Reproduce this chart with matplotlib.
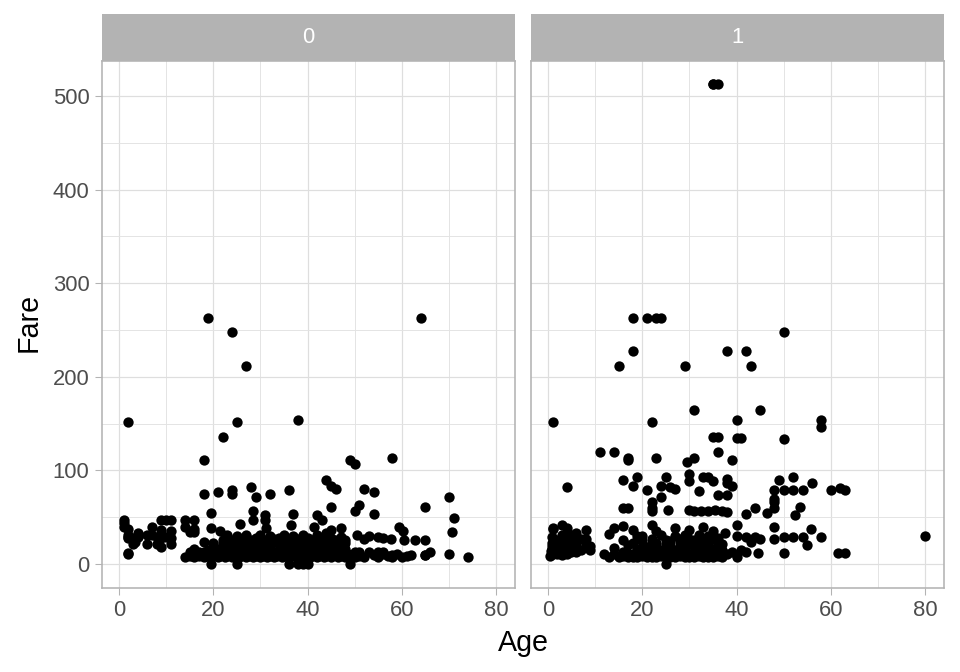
import numpy as np
import matplotlib.pyplot as plt
from matplotlib.ticker import MultipleLocator

# Titanic: Age vs Fare, faceted by Survived (0 / 1)
# values, (age, fare)

died_high = [(2, 151.6), (19, 263), (24, 247.5), (27, 211.3), (22, 135.6), (25, 151.6),
             (38, 153.5), (64, 263), (18, 110.9), (49, 110.9), (50, 106.4), (58, 113.3)]

died_mid = [(18, 75.3), (21, 77.3), (24, 79.2), (24, 75.3), (28, 82.2), (29, 71.3), (32, 75.3),
            (36, 79.2), (44, 90), (45, 83.5), (46, 79.7), (52, 79.7), (54, 77.3), (70, 71.3),
            (65, 61.4), (45, 61.4), (51, 63.4), (50, 56.9), (54, 53.1), (71, 49.5), (19.5, 55),
            (28.5, 56.5), (28.5, 47.1), (31, 52.6), (31, 47.1), (37, 53.1), (42, 52.6), (43, 47.1),
            (14, 46.9), (16, 46.9), (1, 46.9), (9, 46.9), (11, 46.9)]

died_young = [(1, 39.7), (2, 37.5), (4, 33.5), (7, 39.7), (9, 36.5), (11, 35), (7, 31.3), (2, 31.3),
              (3, 27.9), (6, 31.3), (9, 31.3), (2, 27.9), (9, 27.9), (11, 27.9), (2, 29.1), (4, 29.1),
              (8, 29.1), (10, 29.1), (3, 21.1), (3.5, 24), (8, 21.1), (9, 17.8), (11, 21.1),
              (2, 10.5), (2, 12), (6, 21.1), (1, 44), (10, 46.9)]

died_lowmid = [(14, 39.7), (16, 37), (19.5, 38), (21.5, 35), (25.6, 42.4), (31.3, 38), (36.4, 41.6),
               (41.3, 39.4), (45, 36.8), (47, 38), (50.4, 30.5), (59.3, 40), (60.2, 35.5), (70.7, 34.6),
               (55, 29), (56, 27.7), (57.6, 26.5), (60.5, 26), (62.7, 26), (64.9, 26), (15, 34.4),
               (16, 34.4)]

died_upper = [(22, 26), (23, 30.7), (24, 26), (25, 29.7), (26, 26.3), (27, 30.5), (28, 26), (29, 27.7),
              (30, 31.3), (31, 26), (32, 30), (33, 26.6), (34, 27.7), (35, 31), (36, 26), (37, 29.7),
              (38, 26.3), (39, 31.4), (40, 27.7), (41, 26), (42, 30.7), (43, 26.6), (44, 33.5),
              (45, 27.7), (46, 26), (47, 28.5), (48, 26), (23, 21), (25, 24.2), (27, 21.7), (29, 23.5),
              (31, 21), (33, 24.2), (35, 21), (37, 23.3), (39, 21.7), (41, 24), (43, 21), (45, 22.5),
              (47, 21), (18, 24), (20, 22), (52, 26.6), (53, 30),
              (22, 22.4), (24, 20.5), (26, 22.4), (28, 21), (30, 24.2), (32, 22), (34, 21.7),
              (36, 23.5), (38, 21), (40, 22.4), (42, 21.7), (44, 24.2), (46, 21), (48, 22.4)]

died_band = [(14, 7.25), (16, 7.75), (18, 7.23), (19.5, 7.9), (21, 7.25), (22.5, 7.75), (24, 7.05),
             (25.5, 7.9), (27, 7.25), (28.5, 7.75), (30, 7.23), (31.5, 7.9), (33, 7.25), (34.5, 7.75),
             (36, 7.05), (37.5, 7.9), (39, 7.25), (40.5, 7.75), (42, 7.23), (43.5, 7.9), (45, 7.25),
             (46.5, 7.75), (48, 7.05), (50, 7.9), (52, 7.25), (55, 7.75), (58, 7.23),
             (15, 8.05), (17, 8.05), (18.5, 8.66), (20, 8.05), (21.5, 8.05), (23, 8.66), (24.5, 8.05),
             (26, 8.05), (27.5, 8.66), (29, 8.05), (30.5, 8.05), (32, 8.66), (33.5, 8.05), (35, 8.05),
             (36.5, 8.66), (38, 8.05), (39.5, 8.05), (41, 8.66), (42.5, 8.05), (44, 8.05), (47, 8.66),
             (49, 8.05), (51, 8.05), (57, 8.66), (61, 8.05), (65, 9.5), (70, 10.5), (74, 7.8),
             (16, 10.5), (19, 10.5), (22, 9.5), (25, 10.5), (28, 9.8), (31, 10.5), (34, 9.5),
             (37, 10.5), (40, 9.8), (43, 10.5), (46, 9.5), (48.5, 10.5), (54, 9.8), (59, 10.5),
             (62, 9.5), (56, 10.5), (58, 9.2), (60, 7), (66, 12.5), (64.8, 9.5),
             (15, 13), (17, 13), (18, 12.5), (20, 13), (23, 13), (24, 12.5), (26, 13), (27, 13),
             (29, 12.5), (30, 13), (32, 13), (33, 12.5), (35, 13), (36, 13), (38, 12.5), (39, 13),
             (41, 13), (42, 12.5), (44, 13), (45, 13), (47, 12.5), (50, 13), (51, 13), (53, 12.5),
             (55, 13), (56, 13),
             (16, 16.1), (19, 15.5), (21, 16.1), (24, 15.5), (26, 16.1), (28, 15.5), (31, 16.1),
             (34, 15.5), (36, 16.1), (39, 15.5), (42, 16.1), (45, 15.5), (48, 16.1),
             (20, 18.5), (23, 18), (26, 18.5), (29, 18), (32, 18.5), (35, 18), (38, 18.5),
             (41, 18), (44, 18.5), (46, 18),
             (19.5, 0), (25, 0), (36, 0.5), (38, 0), (39, 0), (40, 0), (49, 0)]

surv_high = [(35, 512.3), (36, 512.3), (35, 512.3), (18, 263), (21, 263), (23, 263), (24, 263),
             (50, 247.5), (18, 227.5), (38, 227.5), (42, 227.5), (15, 211.3), (29, 211.3),
             (43, 211.3), (1, 151.6), (22, 151.6), (31, 164.9), (40, 153.5), (45, 164.9),
             (58, 153.5), (58, 146.5), (35, 135.6), (36, 135.6), (40, 134.5), (41, 134.5),
             (50, 133.7), (11, 120), (14, 120), (17, 110.9), (17, 113.3), (23, 113.3), (29.5, 108.9),
             (31, 113.3), (36, 120), (39, 110.9)]

surv_mid = [(4, 81.9), (16, 90), (19, 93.5), (18, 83.2), (21, 79.2), (24, 83.2), (25, 93.5),
            (26, 82.2), (27, 79.7), (30, 96.2), (30, 89.1), (32, 78.3), (33, 93.5), (34, 93.5),
            (35, 89.1), (38, 91.1), (38, 86.5), (36, 73.5), (38, 73.5), (39, 83.2), (49, 90),
            (52, 93.5), (48, 79.2), (50, 79.2), (52, 79.2), (54, 79.2), (56, 86.5), (60, 79.2),
            (62, 81), (63, 79.6), (48, 66.6), (22, 66.6), (24, 71.3), (22, 60), (22, 56.5),
            (25.5, 57.9), (16, 59.4), (17, 59.4), (30, 57.9), (31, 56.5), (32.5, 57), (34, 56.9),
            (35.5, 57.8), (37, 56.5), (38, 55.4), (42, 53.1), (44, 59.4), (46.5, 55), (48, 59.4),
            (48, 69.3), (52.5, 52.6), (53.5, 61.2)]

surv_young = [(0.4, 8.5), (0.7, 14.4), (0.8, 29), (0.9, 15.7), (1, 11.1), (1, 37), (1, 39), (1, 20.6),
              (2, 26), (2, 10.5), (2, 23), (3, 18.8), (3, 26), (3, 15.9), (3, 41.6), (3, 31.4),
              (4, 16.7), (4, 22), (4, 29.1), (4, 11.1), (4, 39), (5, 12.5), (5, 19.3), (5, 27.75),
              (5, 31.4), (6, 12.5), (6, 33), (7, 26.25), (8, 26.25), (8, 36.75), (9, 15.2), (9, 19.3),
              (0.8, 18.75), (0.9, 23), (4, 13.4), (2, 12.3), (6, 26), (3, 9.35), (8, 21),
              (1, 16.7), (2, 15.2), (2, 20.2), (3, 12.5), (4, 24.2), (5, 15.5), (6, 19.3), (7, 14.5)]

surv_band = [(13, 7.9), (15, 7.25), (16, 8.05), (17, 7.75), (18, 7.9), (19, 7.23), (20, 8.05),
             (21, 7.75), (22, 7.9), (23, 7.25), (24, 8.05), (25, 7.75), (26, 7.9), (27, 7.23),
             (28, 8.05), (29, 7.75), (30, 7.9), (31, 7.25), (32, 8.05), (33, 7.75), (34, 7.9),
             (35, 7.23), (36, 8.05), (37, 7.75),
             (12, 11.2), (14, 11.2), (16, 13), (18, 10.5), (19, 13), (21, 10.5), (22, 13), (24, 10.5),
             (25, 13), (27, 10.5), (28, 13), (29, 12.5), (31, 13), (32, 10.5), (34, 13), (35, 12.3),
             (36, 13),
             (14, 16.7), (17, 20.5), (19, 16.1), (22, 21), (24, 15.5), (26, 18.8), (28, 16.1),
             (30, 21), (33, 15.9), (36, 18.8),
             (13, 31.8), (16, 26), (19, 30), (20, 30), (22, 26.5), (24, 30.5), (25, 26), (27, 30),
             (28, 26.3), (29, 30.7), (31, 26), (32, 30.5), (33, 26.3), (34, 30), (35, 26.5), (36, 27.7),
             (14, 39), (16, 41), (18, 36), (22, 42), (23, 35), (27, 38), (30, 36.5), (33, 39.6),
             (35, 35.5),
             (20, 15.2), (21, 18.5), (23, 17.4), (25, 21), (27, 15.5), (29, 17), (31, 19.5),
             (32, 15.5), (34, 19.3), (35, 16.1), (37, 15.2), (18, 22), (20, 24.2), (23, 23),
             (26, 24.2), (28, 22.4), (30, 26.3), (32, 23), (34, 22.5), (36, 23.5), (37, 21),
             (15, 8.66), (17, 10.5), (20, 11.5), (23, 11.2), (26, 12.3), (30, 11.2), (33, 10.5)]

surv_old = [(38, 10.5), (40, 30), (37.6, 33), (42, 29), (43, 24), (44, 29), (44.5, 11.5), (48, 40),
            (50, 12), (50, 29), (52, 29), (54, 29), (55, 20), (55.7, 37), (58, 29), (61.5, 12),
            (63, 12), (80, 30), (40, 41.6), (45, 26.5), (48, 26.5), (42, 13), (39, 13), (40, 7.9),
            (41, 15), (25, 0)]

died = died_high + died_mid + died_young + died_lowmid + died_upper + died_band
surv = surv_high + surv_mid + surv_young + surv_band + surv_old
panels = [("0", died), ("1", surv)]

my_dpi = 96
fig = plt.figure(figsize=(960 / my_dpi, 672 / my_dpi), dpi=my_dpi)
plt.rcParams['font.family'] = ['Liberation Sans', 'DejaVu Sans']

W, H = 960, 672
panel_left = [102, 531]
panel_w = 413
panel_top, panel_bot = 60.5, 588
strip_top = 14

for i, (label, pts) in enumerate(panels):
    x0 = panel_left[i]
    ax = fig.add_axes([x0 / W, 1 - panel_bot / H, panel_w / W, (panel_bot - panel_top) / H])
    age, fare = zip(*pts)
    ax.scatter(age, fare, s=60, c='black', linewidths=0, zorder=3)
    ax.set_xlim(-3.56, 83.98)
    ax.set_ylim(-25.6, 537.9)
    ax.xaxis.set_major_locator(MultipleLocator(20))
    ax.xaxis.set_minor_locator(MultipleLocator(10))
    ax.yaxis.set_major_locator(MultipleLocator(100))
    ax.yaxis.set_minor_locator(MultipleLocator(50))
    ax.grid(which='major', color='#DEDEDE', linewidth=0.9, zorder=0)
    ax.grid(which='minor', color='#E3E3E3', linewidth=0.7, zorder=0)
    ax.set_axisbelow(True)
    for sp in ax.spines.values():
        sp.set_color('#B3B3B3')
        sp.set_linewidth(1.2)
    ax.tick_params(which='minor', length=0)
    ax.tick_params(which='major', length=5.3, width=0.8, color='#B3B3B3',
                   labelcolor='#4D4D4D', labelsize=16.5, pad=4)
    if i == 1:
        ax.tick_params(axis='y', left=False, labelleft=False)

    # facet strip
    sax = fig.add_axes([x0 / W, 1 - panel_top / H, panel_w / W, (panel_top - strip_top) / H])
    sax.set_facecolor('#B3B3B3')
    sax.set_xticks([])
    sax.set_yticks([])
    for sp in sax.spines.values():
        sp.set_visible(False)
    sax.text(0.5, 0.5, label, color='white', fontsize=16.5, ha='center', va='center',
             transform=sax.transAxes)

fig.text(523 / W, 1 - 651 / H, 'Age', fontsize=21.5, ha='center', va='baseline')
fig.text(37 / W, 1 - 322 / H, 'Fare', fontsize=21.5, ha='center', va='baseline',
         rotation=90, rotation_mode='anchor')

plt.savefig("out.png", dpi=my_dpi)
